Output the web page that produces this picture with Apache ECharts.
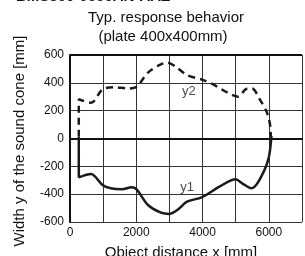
<!DOCTYPE html>
<html><head><meta charset="utf-8">
<script src="https://cdn.jsdelivr.net/npm/echarts@6/dist/echarts.min.js"></script>
<style>html,body{margin:0;padding:0;background:#fff;}#c{width:305px;height:256px;}</style>
</head><body><div id="c"></div>
<script>
const y1 = [[265,10],[265,-279],[638,-255],[980,-334],[1226,-358],[1568,-365],[1862,-350],[2010,-365],[2353,-478],[2745,-533],[2990,-542],[3235,-514],[3530,-454],[3970,-423],[4510,-346],[5000,-293],[5196,-322],[5470,-358],[5686,-310],[5980,-154],[6078,18]];
const y2 = [[265,13],[265,282],[638,257],[980,353],[1323,368],[1765,360],[2010,372],[2353,473],[2696,528],[2940,545],[3186,516],[3530,456],[4020,420],[4412,377],[4755,329],[5078,300],[5294,353],[5490,360],[5735,277],[5931,193],[6029,109],[6059,13]];
const seriesLabels = [[3590,336,'y2'],[3530,-350,'y1']];
const xTicks = [0,2000,4000,6000];
const yTicks = [-600,-400,-200,0,200,400,600];
const F = '"Liberation Sans", Arial, sans-serif';
const chart = echarts.init(document.getElementById('c'));
chart.setOption({
  animation:false,
  backgroundColor:'#fff',
  grid:{left:70,right:-3,top:55,bottom:34,containLabel:false},
  graphic:[
    {type:'text',x:166,y:10,style:{text:'Typ. response behavior',font:'15px '+F,fill:'#111',textAlign:'center'}},
    {type:'text',x:163,y:29,style:{text:'(plate 400x400mm)',font:'15px '+F,fill:'#111',textAlign:'center'}},
    {type:'text',left:16,top:-11,style:{text:'BMS300-0000AN-AAZ',font:'bold 15px '+F,fill:'#111'}},
    {type:'text',x:181,y:245,style:{text:'Object distance x [mm]',font:'15px '+F,fill:'#111',textAlign:'center'}},
    {type:'text',x:20,y:141,rotation:Math.PI/2,style:{text:'Width y of the sound cone [mm]',font:'15px '+F,fill:'#111',textAlign:'center',textVerticalAlign:'middle'}}
  ],
  xAxis:{type:'value',min:0,max:7000,interval:1000,
    axisLine:{show:true,lineStyle:{color:'#111',width:2}},
    axisTick:{show:false},
    axisLabel:{color:'#111',fontFamily:F,fontSize:12,margin:5,
      formatter:v=>xTicks.indexOf(v)>=0?String(v):''},
    splitLine:{show:true,lineStyle:{color:'#333',width:1}}},
  yAxis:{type:'value',min:-600,max:600,interval:200,
    axisLine:{show:true,lineStyle:{color:'#111',width:2}},
    axisTick:{show:false},
    axisLabel:{color:'#111',fontFamily:F,fontSize:12,margin:6,
      formatter:v=>yTicks.indexOf(v)>=0?String(v):''},
    splitLine:{show:true,lineStyle:{color:'#333',width:1}}},
  series:[
    {type:'line',data:y1,smooth:0.3,showSymbol:false,lineStyle:{color:'#1a1a1a',width:2.5}},
    {type:'line',data:y2,smooth:0.3,showSymbol:false,lineStyle:{color:'#1a1a1a',width:2.5,type:[7,5]}},
    {type:'scatter',symbolSize:0,data:seriesLabels.map(d=>[d[0],d[1],d[2]]),
      label:{show:true,position:'inside',formatter:p=>p.value[2],color:'#222',fontFamily:F,fontSize:13}},
    {type:'line',data:[[0,600],[7000,600]],showSymbol:false,lineStyle:{color:'#111',width:2}}
  ]
});
</script></body></html>
